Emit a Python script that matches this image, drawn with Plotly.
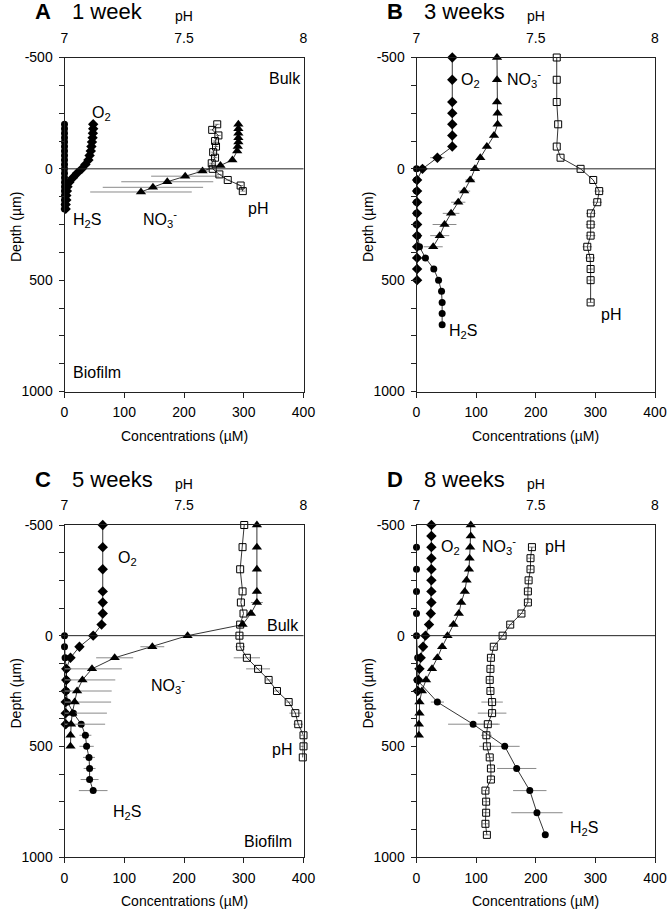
import plotly.graph_objects as go

# ---------------- data ----------------
depth_ticks = [-500, 0, 500, 1000]
depth_ticktext = ['-500', '0', '500', '1000']
depth_minor_ticks = [-375, -250, -125, 125, 250, 375, 625, 750, 875]
conc_ticks = [0, 100, 200, 300, 400]
ph_ticks = [7, 7.5, 8]
ph_ticktext = ['7', '7.5', '8']

# Panel A - 1 week
A_O2_depth = [-200, -180, -160, -140, -120, -100, -80, -60, -40, -20, 0, 20, 40, 60, 80, 100, 120, 140, 160, 180]
A_O2 = [48, 48, 47.5, 47, 46, 45, 44, 42, 40, 35, 29, 21, 14, 8, 5, 4, 3, 3, 2, 2]
A_H2S_depth = [-200, -180, -160, -140, -120, -100, -80, -60, -40, -20, 0, 20, 40, 60, 80, 100, 120, 140, 160, 180]
A_H2S = [0, 0, 0, 0, 0, 0, 0, 0, 0, 0, 0, 0, 0, 0, 0, 0, 0, 0, 0, 0]
A_NO3_depth = [-200, -180, -160, -140, -120, -100, -80, -40, -15, 10, 33, 58, 83, 104]
A_NO3 = [291, 291, 291, 291, 291, 290, 289, 281, 261, 231, 202, 172, 148, 128]
A_NO3_err = [0, 0, 0, 0, 0, 0, 0, 3, 5, 10, 57, 77, 84, 85]
A_pH_depth = [-200, -175, -150, -125, -100, -75, -50, -25, 0, 25, 50, 75, 100]
A_pH = [7.639, 7.618, 7.644, 7.630, 7.634, 7.622, 7.630, 7.616, 7.620, 7.648, 7.683, 7.737, 7.746]
A_pH_err = [0.01, 0.01, 0.01, 0.01, 0.01, 0.01, 0.01, 0.01, 0.01, 0.01, 0.01, 0.01, 0.01]

# Panel B - 3 weeks
B_O2_depth = [-500, -400, -300, -250, -200, -150, -100, -50, 0, 50, 100, 150, 200, 250, 300, 350, 400, 450, 500]
B_O2 = [60, 60, 60, 60, 60, 60, 60, 35, 10, 1, 1, 1, 1, 1, 1, 1, 1, 1, 1]
B_O2_err = [0, 0, 0, 0, 0, 0, 0, 12, 0, 0, 0, 0, 0, 0, 0, 0, 0, 0, 0]
B_H2S_depth = [0, 50, 100, 150, 200, 250, 300, 350, 400, 450, 500, 550, 600, 650, 700]
B_H2S = [0, 0, 0, 0, 0, 0, 2, 5, 15, 29, 37, 42, 43, 43, 43]
B_NO3_depth = [-500, -400, -300, -250, -200, -150, -100, -50, 0, 50, 100, 150, 200, 250, 300, 350]
B_NO3 = [135, 135, 135, 136, 136, 130, 118, 107, 98, 90, 80, 70, 58, 47, 39, 28]
B_NO3_err = [0, 0, 0, 0, 0, 0, 0, 0, 0, 8, 10, 12, 14, 20, 16, 16]
B_pH_depth = [-500, -400, -300, -200, -100, -50, 0, 50, 100, 150, 200, 250, 300, 350, 400, 450, 500, 600]
B_pH = [7.588, 7.588, 7.588, 7.594, 7.588, 7.604, 7.688, 7.741, 7.766, 7.758, 7.731, 7.730, 7.730, 7.716, 7.728, 7.730, 7.730, 7.730]
B_pH_err = [0, 0, 0, 0, 0, 0, 0, 0, 0.02, 0.02, 0.02, 0.02, 0.02, 0.02, 0.02, 0.012, 0.012, 0.012]

# Panel C - 5 weeks
C_O2_depth = [-500, -400, -300, -200, -150, -100, -50, 0, 50, 100, 150, 200, 250, 300, 350, 400]
C_O2 = [64, 64, 64, 64, 64, 64, 62, 48, 25, 10, 3, 3, 2, 2, 2, 2]
C_H2S_depth = [0, 50, 100, 150, 200, 250, 300, 350, 400, 450, 500, 550, 600, 650, 700]
C_H2S = [0, 0, 1, 3, 3, 3, 5, 15, 28, 35, 37, 41, 42, 42, 48]
C_H2S_err = [0, 0, 0, 0, 0, 0, 0, 0, 0, 10, 12, 10, 10, 15, 24]
C_NO3_depth = [-500, -400, -300, -200, -150, -100, -50, 0, 50, 100, 150, 200, 250, 300, 350, 400, 450, 500]
C_NO3 = [322, 322, 322, 322, 322, 312, 298, 206, 147, 84, 46, 30, 21, 17, 13, 11, 10, 10]
C_NO3_err = [0, 0, 0, 0, 10, 0, 0, 0, 20, 31, 50, 55, 58, 61, 58, 57, 5, 0]
C_pH_depth = [-500, -400, -300, -200, -150, -100, -50, 0, 50, 100, 150, 200, 250, 300, 350, 400, 450, 500, 550]
C_pH = [7.752, 7.745, 7.735, 7.745, 7.738, 7.749, 7.735, 7.732, 7.735, 7.763, 7.810, 7.854, 7.889, 7.938, 7.966, 7.978, 8.0, 8.0, 7.997]
C_pH_err = [0, 0, 0, 0, 0, 0, 0, 0, 0.02, 0.055, 0.05, 0.012, 0.012, 0.012, 0.025, 0.02, 0.012, 0.012, 0]

# Panel D - 8 weeks
D_O2_depth = [-500, -450, -400, -350, -300, -250, -200, -150, -100, -50, 0, 50, 100, 150, 200, 250]
D_O2 = [25, 25, 25, 25, 25, 25, 25, 25, 24, 21, 15, 11, 7, 5, 3, 2]
D_H2S_depth = [-400, -300, -200, -100, 0, 100, 200, 300, 400, 500, 600, 700, 800, 900]
D_H2S = [0, 0, 0, 0, 0, 2, 1, 35, 95, 148, 168, 190, 202, 216]
D_H2S_err = [0, 0, 0, 0, 0, 0, 0, 11, 42, 25, 33, 28, 43, 0]
D_NO3_depth = [-500, -450, -400, -350, -300, -250, -200, -150, -100, -50, 0, 50, 100, 150, 200, 250, 300, 350, 400, 450]
D_NO3 = [91, 91, 90, 89, 88, 84, 81, 75, 71, 62, 52, 43, 35, 26, 16, 9, 5, 5, 4, 4]
D_NO3_err = [0, 0, 0, 0, 0, 0, 0, 0, 0, 7, 6, 6, 6, 6, 6, 6, 0, 0, 0, 0]
D_pH_depth = [-400, -350, -300, -250, -200, -150, -100, -50, 0, 50, 100, 150, 200, 250, 300, 350, 400,
              450, 500, 550, 600, 650, 700, 750, 800, 850, 900]
D_pH = [7.484, 7.478, 7.478, 7.470, 7.467, 7.467, 7.440, 7.393, 7.361, 7.324, 7.312, 7.310, 7.307, 7.310,
        7.317, 7.317, 7.299, 7.293, 7.295, 7.307, 7.312, 7.312, 7.289, 7.292, 7.292, 7.289, 7.295]
D_pH_err = [0.012, 0.012, 0.012, 0.012, 0.012, 0.012, 0.012, 0.012, 0.012, 0.012, 0.012, 0.012, 0.012, 0.012,
            0.045, 0.06, 0.05, 0.022, 0.032, 0.012, 0.012, 0.012, 0.012, 0.012, 0.012, 0.012, 0.012]

panel_letters = ['A', 'B', 'C', 'D']
panel_titles = ['1 week', '3 weeks', '5 weeks', '8 weeks']

# ---------------- layout geometry (page pixels) ----------------
W, H = 671, 917
COLS = [(64.5, 303.5), (416.5, 655.0)]
ROWS = [(57.5, 391.5), (525.0, 857.0)]
FONT = 'Liberation Sans, Arial, sans-serif'
ERRC = '#8a8a8a'


def fx(p):
    return p / W


def fy(p):
    return 1 - p / H


panels = [
    dict(O2=(A_O2_depth, A_O2, None), H2S=(A_H2S_depth, A_H2S, None),
         NO3=(A_NO3_depth, A_NO3, A_NO3_err), pH=(A_pH_depth, A_pH, A_pH_err),
         labels=[('O<sub>2</sub>', 62, -250), ('Bulk', 369, -405), ('H<sub>2</sub>S', 37, 232),
                 ('NO<sub>3</sub><sup>-</sup>', 159, 225), ('pH', 324, 177), ('Biofilm', 55, 916)]),
    dict(O2=(B_O2_depth, B_O2, B_O2_err), H2S=(B_H2S_depth, B_H2S, None),
         NO3=(B_NO3_depth, B_NO3, B_NO3_err), pH=(B_pH_depth, B_pH, B_pH_err),
         labels=[('O<sub>2</sub>', 90, -397), ('NO<sub>3</sub><sup>-</sup>', 180, -405),
                 ('H<sub>2</sub>S', 78, 732), ('pH', 326, 656)]),
    dict(O2=(C_O2_depth, C_O2, None), H2S=(C_H2S_depth, C_H2S, C_H2S_err),
         NO3=(C_NO3_depth, C_NO3, C_NO3_err), pH=(C_pH_depth, C_pH, C_pH_err),
         labels=[('O<sub>2</sub>', 106, -350), ('Bulk', 366, -47), ('NO<sub>3</sub><sup>-</sup>', 174, 222),
                 ('pH', 364, 515), ('H<sub>2</sub>S', 104, 798), ('Biofilm', 340, 932)]),
    dict(O2=(D_O2_depth, D_O2, None), H2S=(D_H2S_depth, D_H2S, D_H2S_err),
         NO3=(D_NO3_depth, D_NO3, D_NO3_err), pH=(D_pH_depth, D_pH, D_pH_err),
         labels=[('O<sub>2</sub>', 57, -400), ('NO<sub>3</sub><sup>-</sup>', 138, -405),
                 ('pH', 232, -402), ('H<sub>2</sub>S', 281, 872)]),
]

styles = {
    'H2S': dict(symbol='circle', size=7),
    'O2': dict(symbol='diamond', size=8),
    'NO3': dict(symbol='triangle-up', size=9),
}

fig = go.Figure()
annotations = []
shapes = []
layout = {}

for k, p in enumerate(panels):
    row, col = k // 2, k % 2
    cnum = 2 * k + 1
    pnum = 2 * k + 2
    cx = 'x' if cnum == 1 else f'x{cnum}'
    px_ = f'x{pnum}'
    yy = 'y' if k == 0 else f'y{k + 1}'
    cx_key = 'xaxis' if cnum == 1 else f'xaxis{cnum}'
    px_key = f'xaxis{pnum}'
    yy_key = 'yaxis' if k == 0 else f'yaxis{k + 1}'
    xd = [fx(COLS[col][0]), fx(COLS[col][1])]
    yd = [fy(ROWS[row][1]), fy(ROWS[row][0])]

    layout[cx_key] = dict(domain=xd, anchor=yy, range=[0, 400], tickmode='array', tickvals=conc_ticks,
                          ticks='outside', ticklen=5, tickwidth=1, tickcolor='#222',
                          showline=True, mirror=True, linecolor='#222', linewidth=1,
                          showgrid=False, zeroline=False, ticklabelstandoff=3, automargin=False,
                          tickfont=dict(family=FONT, size=14, color='black'))
    layout[px_key] = dict(overlaying=cx, side='top', anchor=yy, range=[7, 8], tickmode='array',
                          tickvals=ph_ticks, ticktext=ph_ticktext, ticks='outside', ticklen=8,
                          tickcolor='rgba(0,0,0,0)', showline=False, showgrid=False, zeroline=False,
                          automargin=False, tickfont=dict(family=FONT, size=14, color='black'))
    layout[yy_key] = dict(domain=yd, anchor=cx, range=[1000, -500], autorange=False, tickmode='array',
                          tickvals=depth_ticks, ticktext=depth_ticktext, ticks='outside', ticklen=5,
                          tickwidth=1, tickcolor='#222', showline=True, mirror=True, linecolor='#222',
                          minor=dict(tickmode='array', tickvals=depth_minor_ticks, ticks='outside',
                                     ticklen=5, tickwidth=1, tickcolor='#222', showgrid=False),
                          linewidth=1, showgrid=False, zeroline=False, ticklabelstandoff=3,
                          automargin=False, tickfont=dict(family=FONT, size=14, color='black'))

    # zero-depth reference line
    shapes.append(dict(type='line', xref=f'{cx} domain', x0=0, x1=1, yref=yy, y0=0, y1=0,
                       line=dict(color='#222', width=1)))

    # concentration profiles
    for key in ['H2S', 'O2', 'NO3']:
        d, v, e = p[key]
        ex = dict(type='data', array=e, color=ERRC, thickness=1, width=0, visible=True) if e else None
        fig.add_trace(go.Scatter(x=v, y=d, xaxis=cx, yaxis=yy, mode='lines+markers',
                                 line=dict(color='black', width=0.8),
                                 marker=dict(color='black', **styles[key]),
                                 error_x=ex, cliponaxis=False, showlegend=False, hoverinfo='skip'))
    # pH profile on top axis
    d, v, e = p['pH']
    fig.add_trace(go.Scatter(x=v, y=d, xaxis=px_, yaxis=yy, mode='lines+markers',
                             line=dict(color='black', width=0.8),
                             marker=dict(symbol='square-open', size=7, color='black', line=dict(width=1)),
                             error_x=dict(type='data', array=e, color=ERRC, thickness=1, width=0, visible=True),
                             cliponaxis=False, showlegend=False, hoverinfo='skip'))

    for text, lx, ly in p['labels']:
        annotations.append(dict(text=text, x=lx, y=ly, xref=cx, yref=yy, showarrow=False,
                                xanchor='center', yanchor='middle',
                                font=dict(family=FONT, size=16, color='black')))

    x0, x1 = COLS[col]
    y0, y1 = ROWS[row]
    xm = (x0 + x1) / 2
    # panel letter and title
    annotations.append(dict(text='<b>' + panel_letters[k] + '</b>', x=fx(x0 - 32), y=fy(y0 - 46),
                            xref='paper', yref='paper', showarrow=False, xanchor='left', yanchor='middle',
                            font=dict(family=FONT, size=22, color='black')))
    annotations.append(dict(text=panel_titles[k], x=fx(x0 + 5), y=fy(y0 - 46),
                            xref='paper', yref='paper', showarrow=False, xanchor='left', yanchor='middle',
                            font=dict(family=FONT, size=22, color='black')))
    annotations.append(dict(text='pH', x=fx(xm + 0), y=fy(y0 - 41), xref='paper', yref='paper',
                            showarrow=False, xanchor='center', yanchor='middle',
                            font=dict(family=FONT, size=14, color='black')))
    annotations.append(dict(text='Concentrations (µM)', x=fx(xm), y=fy(y1 + 44), xref='paper', yref='paper',
                            showarrow=False, xanchor='center', yanchor='middle',
                            font=dict(family=FONT, size=14, color='black')))
    annotations.append(dict(text='Depth (µm)', x=fx(x0 - 49), y=fy((y0 + y1) / 2 + 3), xref='paper',
                            yref='paper', showarrow=False, xanchor='center', yanchor='middle',
                            textangle=-90, font=dict(family=FONT, size=14, color='black')))

fig.update_layout(width=W, height=H, margin=dict(l=0, r=0, t=0, b=0, pad=0), plot_bgcolor='white',
                  paper_bgcolor='white', showlegend=False, annotations=annotations, shapes=shapes,
                  **layout)
fig.write_html('out.html', config={'displayModeBar': False, 'staticPlot': True},
               post_script="document.body.style.margin='0';document.body.style.overflow='hidden';")
